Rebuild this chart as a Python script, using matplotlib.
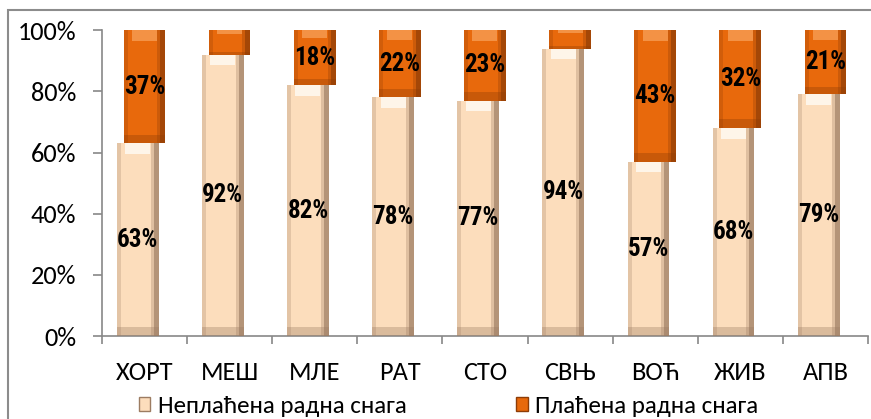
import numpy as np
import matplotlib
matplotlib.use("Agg")
import matplotlib.pyplot as plt
from matplotlib.patches import Patch, Rectangle

# data
categories = ["ХОРТ", "МЕШ", "МЛЕ", "РАТ", "СТО", "СВЊ", "ВОЋ", "ЖИВ", "АПВ"]
unpaid = [63, 92, 82, 78, 77, 94, 57, 68, 79]
paid = [37, 8, 18, 22, 23, 6, 43, 32, 21]
labels_series = ["Неплаћена радна снага", "Плаћена радна снага"]

beige = "#FCDDBC"
beige_dark = "#9C7C62"
beige_light = "#FFFAF2"
orange = "#E8690C"
orange_dark = "#8E3C06"
orange_light = "#F59A50"

tick_font = ["Carlito", "DejaVu Sans"]
label_font = ["Roboto Condensed", "Fira Sans Condensed", "DejaVu Sans"]

fig = plt.figure(figsize=(8.71, 4.19), dpi=100)
ax = fig.add_axes([0.117, 0.198, 0.8796, 0.730])

x = np.arange(len(categories))
w = 0.49
off_u = -0.08
off_p = 0.0
u = np.array(unpaid, dtype=float)
p = np.array(paid, dtype=float)


def bevel_bar(xc, bottom, height, color, dark, light):
    # main body plus edge strips to fake the bevelled look
    ax.bar(xc, height, w, bottom=bottom, color=color, zorder=2)
    sw = w * 0.12
    ax.bar(xc + w / 2 - sw / 2, height, sw, bottom=bottom, color=dark, alpha=0.75, zorder=3)
    ax.bar(xc + w / 2 - sw * 1.3, height, sw * 0.6, bottom=bottom, color=dark, alpha=0.3, zorder=3)
    ax.bar(xc - w / 2 + sw * 0.4, height, sw * 0.8, bottom=bottom, color=dark, alpha=0.25, zorder=3)
    cap = np.minimum(height * 0.15, 3.5)
    ax.bar(xc, cap, w * 0.6, bottom=bottom + height - cap, color=light, alpha=0.85, zorder=3)
    ax.bar(xc, cap * 0.8, w, bottom=bottom, color=dark, alpha=0.35, zorder=3)


bevel_bar(x + off_u, np.zeros_like(u), u, beige, beige_dark, beige_light)
bevel_bar(x + off_p, u, p, orange, orange_dark, orange_light)

for i in range(len(categories)):
    ax.text(x[i] + off_u, u[i] / 2, f"{unpaid[i]}%", ha="center", va="center",
            fontsize=18, fontweight="bold", family=label_font, zorder=5)
    if paid[i] >= 10:
        ax.text(x[i] + off_p, u[i] + p[i] / 2, f"{paid[i]}%", ha="center", va="center",
                fontsize=18, fontweight="bold", family=label_font, zorder=5)

ax.set_xlim(-0.5, len(categories) - 0.5)
ax.set_ylim(0, 100)
ax.set_yticks(np.arange(0, 101, 20))
ax.set_yticklabels([f"{v}%" for v in range(0, 101, 20)], fontsize=19, family=tick_font)
ax.set_xticks(x)
ax.set_xticklabels(categories, fontsize=19, family=tick_font)
ax.set_xticks(np.arange(-0.5, len(categories), 1), minor=True)
ax.tick_params(axis="x", which="major", length=0, pad=18)
ax.tick_params(axis="x", which="minor", length=6, width=1.2, color="#888888", direction="out")
ax.tick_params(axis="y", length=6.5, width=1.2, color="#888888", direction="out", pad=12)

for s in ["top", "right"]:
    ax.spines[s].set_visible(False)
for s in ["left", "bottom"]:
    ax.spines[s].set_color("#888888")
    ax.spines[s].set_linewidth(1.2)

# outer chart frame
fig.patches.append(Rectangle((8 / 871, -0.05), 1.1, 1 - 10 / 419 + 0.05,
                             transform=fig.transFigure, fill=False,
                             edgecolor="#8C8C8C", linewidth=1.5))

handles = [Patch(facecolor=beige, edgecolor=beige_dark),
           Patch(facecolor=orange, edgecolor=orange_dark)]
fig.legend(handles, labels_series, loc="center", bbox_to_anchor=(0.515, 0.03),
           ncol=2, frameon=False, prop={"family": tick_font, "size": 18},
           handlelength=0.45, handleheight=0.45, handletextpad=0.3, columnspacing=4.4,
           borderpad=0)

fig.savefig("out.png", dpi=100)
